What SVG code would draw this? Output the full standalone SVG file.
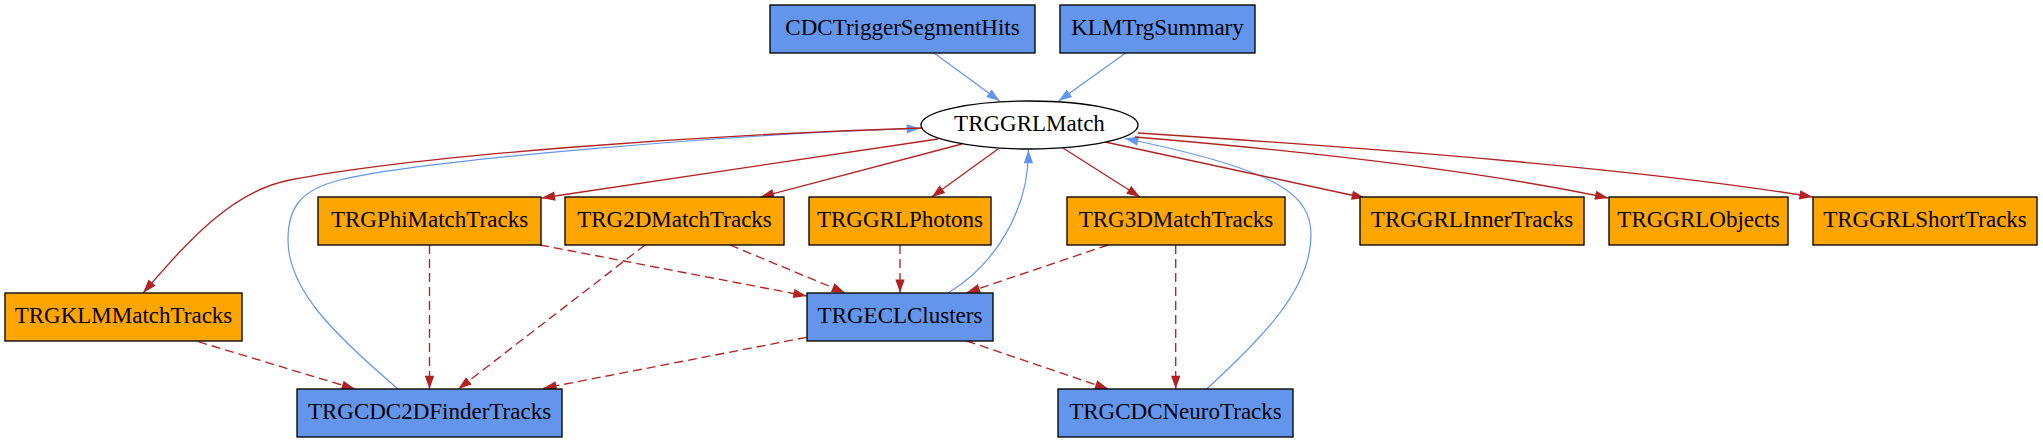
<svg xmlns="http://www.w3.org/2000/svg" width="2043" height="443" viewBox="0 0 2043 443">
<style>
text{font-family:"Liberation Serif","Times New Roman",serif;font-size:23px;text-anchor:middle;fill:#000}
.b rect{fill:#6495ED;stroke:#000;stroke-width:1.33}
.o rect{fill:#FFA500;stroke:#000;stroke-width:1.33}
.eb{fill:none;stroke:#6495ED;stroke-width:1.2;marker-end:url(#ab)}
.er{fill:none;stroke:#B22222;stroke-width:1.33;marker-end:url(#ar)}
.ed{fill:none;stroke:#B22222;stroke-width:1.33;stroke-dasharray:9,5;marker-end:url(#ar)}
</style>
<defs>
<marker id="ar" markerUnits="userSpaceOnUse" markerWidth="14" markerHeight="10" refX="13.3" refY="4.67" orient="auto" viewBox="0 0 14 10" overflow="visible"><path d="M0,0 L13.3,4.67 L0,9.33z" fill="#B22222"/></marker>
<marker id="ab" markerUnits="userSpaceOnUse" markerWidth="14" markerHeight="10" refX="13.3" refY="4.67" orient="auto" viewBox="0 0 14 10" overflow="visible"><path d="M0,0 L13.3,4.67 L0,9.33z" fill="#6495ED"/></marker>
</defs>
<rect width="2043" height="443" fill="#fff"/>
<g id="connectors">
<path class="eb" d="M934,53 L999.7,101"/>
<path class="eb" d="M1125.6,53 L1058.6,101"/>
<path class="eb" d="M948,293 C993,266 1029,212 1028.3,150"/>
<path class="eb" d="M398,389 C335,335 288,290 288,240 C288,208 300,190 340,180 C420,160 750,133 920,128.5"/>
<path class="eb" d="M1206.7,389 C1260,340 1311,290 1311,235 C1311,195 1280,170 1125,138.5"/>
<path class="er" d="M922,128 C700,135 420,155 290,180 C230,191.5 185,245 143.3,292.7"/>
<path class="er" d="M938,139 L541.7,198"/>
<path class="er" d="M962,144 L760.7,197"/>
<path class="er" d="M998,149 L931.7,197"/>
<path class="er" d="M1063,148 L1140,197"/>
<path class="er" d="M1105,142 L1365,198"/>
<path class="er" d="M1135,137 C1350,155 1500,175 1608.3,198"/>
<path class="er" d="M1138,133 C1400,150 1650,170 1812.7,197"/>
<path class="ed" d="M429.5,245 L429.5,389"/>
<path class="ed" d="M540,245 L806.7,296"/>
<path class="ed" d="M645,245 L458.3,389"/>
<path class="ed" d="M730,245 L845,292.7"/>
<path class="ed" d="M900,245 L900,292.7"/>
<path class="ed" d="M1108,245 L966.7,292.7"/>
<path class="ed" d="M1175.7,245 L1175.7,389"/>
<path class="ed" d="M198.3,341.7 L355,389"/>
<path class="ed" d="M806.7,337.3 L543.3,388.3"/>
<path class="ed" d="M966.7,341 L1108.3,389"/>
</g>
<g id="CDCTriggerSegmentHits" class="b"><rect x="770" y="5" width="265" height="48"/><text x="902.5" y="34.5">CDCTriggerSegmentHits</text></g>
<g id="KLMTrgSummary" class="b"><rect x="1060" y="5" width="195" height="48"/><text x="1157.5" y="34.5">KLMTrgSummary</text></g>
<g id="TRGGRLMatch"><ellipse cx="1029.5" cy="125" rx="108.5" ry="24" fill="#fff" stroke="#000" stroke-width="1.33"/><text x="1029.5" y="130.5">TRGGRLMatch</text></g>
<g id="TRGPhiMatchTracks" class="o"><rect x="318" y="197" width="223" height="48"/><text x="429.5" y="226.5">TRGPhiMatchTracks</text></g>
<g id="TRG2DMatchTracks" class="o"><rect x="565" y="197" width="219" height="48"/><text x="674.5" y="226.5">TRG2DMatchTracks</text></g>
<g id="TRGGRLPhotons" class="o"><rect x="809" y="197" width="182" height="48"/><text x="900" y="226.5">TRGGRLPhotons</text></g>
<g id="TRG3DMatchTracks" class="o"><rect x="1067" y="197" width="218" height="48"/><text x="1176" y="226.5">TRG3DMatchTracks</text></g>
<g id="TRGGRLInnerTracks" class="o"><rect x="1360" y="197" width="224" height="48"/><text x="1472" y="226.5">TRGGRLInnerTracks</text></g>
<g id="TRGGRLObjects" class="o"><rect x="1609" y="197" width="179" height="48"/><text x="1698.5" y="226.5">TRGGRLObjects</text></g>
<g id="TRGGRLShortTracks" class="o"><rect x="1813" y="197" width="224" height="48"/><text x="1925" y="226.5">TRGGRLShortTracks</text></g>
<g id="TRGKLMMatchTracks" class="o"><rect x="5" y="293" width="237" height="48"/><text x="123.5" y="322.5">TRGKLMMatchTracks</text></g>
<g id="TRGECLClusters" class="b"><rect x="807" y="293" width="186" height="48"/><text x="900" y="322.5">TRGECLClusters</text></g>
<g id="TRGCDC2DFinderTracks" class="b"><rect x="297" y="389" width="265" height="48"/><text x="429.5" y="418.5">TRGCDC2DFinderTracks</text></g>
<g id="TRGCDCNeuroTracks" class="b"><rect x="1058" y="389" width="235" height="48"/><text x="1175.5" y="418.5">TRGCDCNeuroTracks</text></g>
</svg>
